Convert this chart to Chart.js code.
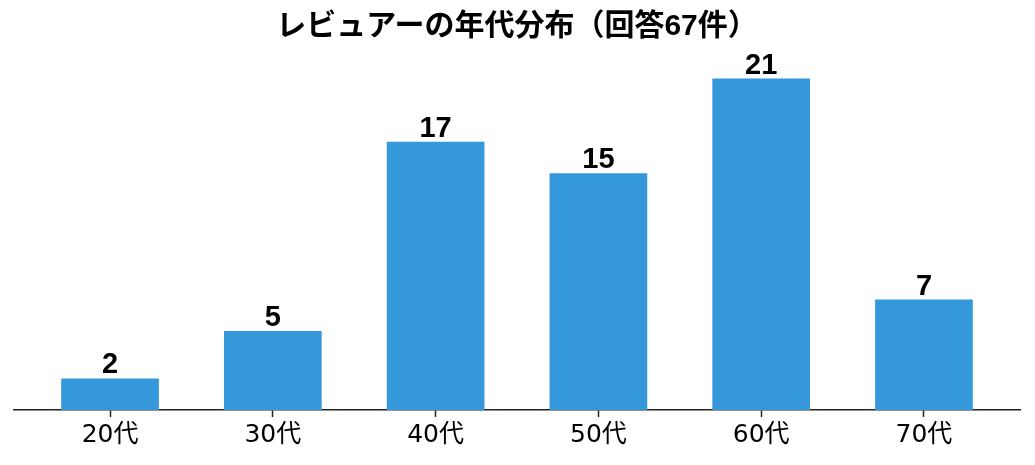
<!DOCTYPE html>
<html>
<head>
<meta charset="utf-8">
<script src="https://cdn.jsdelivr.net/npm/chart.js@4/dist/chart.umd.min.js"></script>
<style>
  html, body { margin: 0; padding: 0; background: #fff; }
  #wrap { width: 1035px; height: 465px; }
</style>
</head>
<body>
<div id="wrap"><canvas id="nendai"></canvas></div>
<script>
const categories = ['20代', '30代', '40代', '50代', '60代', '70代'];
const counts = [2, 5, 17, 15, 21, 7];
const titleText = 'レビュアーの年代分布（回答67件）';

const fontFam = '"Liberation Sans", "Noto Sans CJK JP", sans-serif';
const tickFam = '"DejaVu Sans", "Noto Sans CJK JP", sans-serif';

// numbers above each bar
const barLabels = {
    id: 'barLabels',
    afterDatasetsDraw(chart) {
        const ctx = chart.ctx;
        const meta = chart.getDatasetMeta(0);
        ctx.save();
        ctx.font = 'bold 29px ' + fontFam;
        ctx.fillStyle = '#000';
        ctx.textAlign = 'center';
        ctx.textBaseline = 'alphabetic';
        meta.data.forEach(function (bar, i) {
            ctx.fillText(String(counts[i]), bar.x, bar.y - 5);
        });
        ctx.restore();
    }
};

document.addEventListener('DOMContentLoaded', function () {
    let ctx = document.getElementById('nendai').getContext('2d');
    let chart = new Chart(ctx, {
        type: 'bar',
        data: {
            datasets: [{
                label: '人数',
                data: counts.map((v, i) => ({ x: i, y: v })),
                backgroundColor: '#3498db',
                barPercentage: 0.6,
                categoryPercentage: 1.0
            }]
        },
        options: {
            responsive: true,
            maintainAspectRatio: false,
            animation: false,
            layout: { padding: { left: 14, right: 15, top: 9, bottom: 12 } },
            plugins: {
                legend: { display: false },
                tooltip: { enabled: false },
                title: {
                    display: true,
                    text: titleText,
                    color: '#000',
                    font: { family: fontFam, size: 30, weight: 'bold' },
                    padding: { top: 0, bottom: 17 }
                }
            },
            scales: {
                x: {
                    type: 'linear',
                    offset: false,
                    min: -0.59,
                    max: 5.59,
                    afterBuildTicks: function (scale) {
                        scale.ticks = categories.map((c, i) => ({ value: i }));
                    },
                    ticks: {
                        autoSkip: false,
                        maxRotation: 0,
                        color: '#000',
                        padding: 3,
                        font: { family: tickFam, size: 25 },
                        callback: function (value) { return categories[value]; }
                    },
                    grid: {
                        display: true,
                        offset: false,
                        drawOnChartArea: false,
                        drawTicks: true,
                        tickLength: 7,
                        tickColor: '#222',
                        tickWidth: 1.5
                    },
                    border: { display: true, color: '#222', width: 1.5 }
                },
                y: {
                    display: false,
                    min: 0,
                    max: 22.05
                }
            }
        },
        plugins: [barLabels]
    });
});
</script>
</body>
</html>
